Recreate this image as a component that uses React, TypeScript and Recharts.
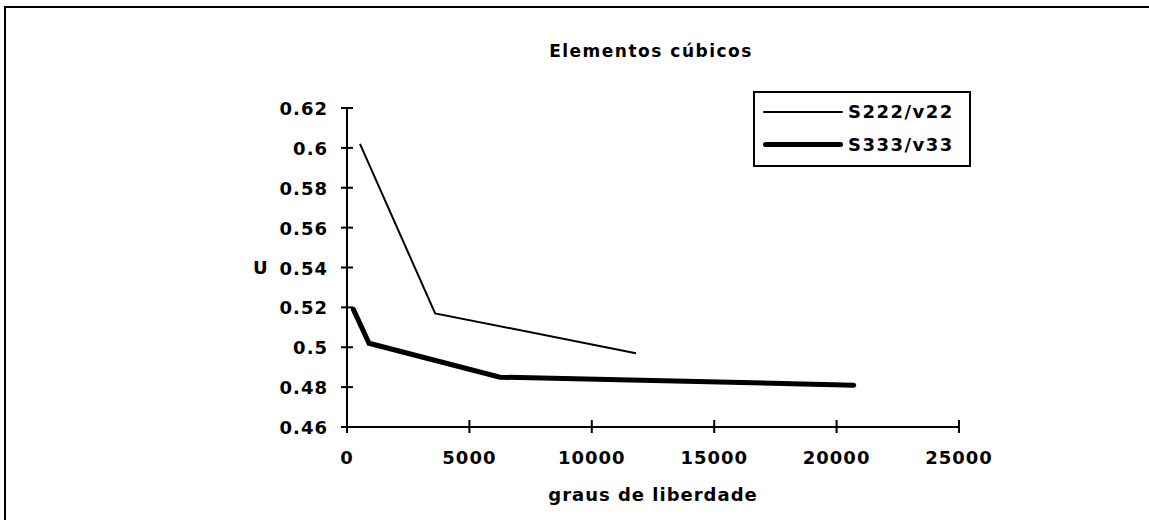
import React from 'react';
import { LineChart, Line, XAxis, YAxis, Legend, Label } from 'recharts';

// values
const s222Graus = [530, 3600, 11800];
const s222U = [0.602, 0.517, 0.497];
const s333Graus = [260, 900, 6250, 20700];
const s333U = [0.519, 0.502, 0.485, 0.481];

const xTicks = [0, 5000, 10000, 15000, 20000, 25000];
const yTicks = [0.46, 0.48, 0.5, 0.52, 0.54, 0.56, 0.58, 0.6, 0.62];

const seriesNames = ['S222/v22', 'S333/v33'];

const toPoints = (xs: number[], ys: number[]) => xs.map((g, i) => ({ graus: g, u: ys[i] }));
const s222Data = toPoints(s222Graus, s222U);
const s333Data = toPoints(s333Graus, s333U);

const FONT = '"DejaVu Sans", sans-serif';
const textStyle = { fontFamily: FONT, fontWeight: 700, fontSize: 18, letterSpacing: 1, fill: '#000' };

const YTick = (props: any) => {
  const { x, y, payload } = props;
  return (
    <g>
      <line x1={x - 6} x2={x + 6} y1={y} y2={y} stroke="#000" strokeWidth={2} />
      <text x={x - 19} y={y + 7} textAnchor="end" style={textStyle}>
        {String(Number(payload.value.toFixed(2)))}
      </text>
    </g>
  );
};

const XTick = (props: any) => {
  const { x, y, payload } = props;
  return (
    <g>
      <line x1={x} x2={x} y1={y - 7} y2={y + 6} stroke="#000" strokeWidth={2} />
      <text x={x} y={y + 37} textAnchor="middle" style={textStyle}>
        {payload.value}
      </text>
    </g>
  );
};

const LegendBox = () => (
  <div
    style={{
      position: 'absolute',
      left: 753,
      top: 91,
      width: 214,
      height: 72,
      border: '2px solid #000',
      background: '#fff',
      fontFamily: FONT,
      fontWeight: 700,
      fontSize: 18,
      letterSpacing: 1.5,
    }}
  >
    {seriesNames.map((name, i) => (
      <div key={name} style={{ position: 'absolute', left: 8, top: i === 0 ? 8 : 41, display: 'flex', alignItems: 'center' }}>
        <div style={{ width: 80, height: i === 0 ? 2 : 5, background: '#000', borderRadius: 3 }} />
        <span style={{ marginLeft: 5 }}>{name}</span>
      </div>
    ))}
  </div>
);

export default function App() {
  return (
    <div style={{ position: 'absolute', left: 0, top: 0, width: 1149, height: 520, overflow: 'hidden', background: '#fff' }}>
      <div
        style={{
          position: 'absolute',
          left: 4,
          top: 6,
          width: 1300,
          height: 700,
          borderLeft: '2px solid #000',
          borderTop: '2px solid #000',
        }}
      />
      <div
        style={{
          position: 'absolute',
          left: 501,
          top: 41,
          width: 300,
          textAlign: 'center',
          fontFamily: FONT,
          fontWeight: 700,
          fontSize: 17,
          letterSpacing: 1.5,
        }}
      >
        Elementos cúbicos
      </div>
      <div style={{ position: 'absolute', left: 0, top: 0 }}>
        <LineChart width={1149} height={520} margin={{ top: 108, right: 190, bottom: 13, left: 247 }}>
          <XAxis
            type="number"
            dataKey="graus"
            domain={[0, 25000]}
            ticks={xTicks}
            height={80}
            tickSize={0}
            tickMargin={0}
            tickLine={false}
            tick={<XTick />}
            axisLine={{ stroke: '#000', strokeWidth: 2 }}
            allowDuplicatedCategory={false}
          >
            <Label value="graus de liberdade" position="insideBottom" offset={6} style={textStyle} />
          </XAxis>
          <YAxis
            type="number"
            dataKey="u"
            domain={[0.46, 0.62]}
            ticks={yTicks}
            width={100}
            tickSize={0}
            tickMargin={0}
            tickLine={false}
            tick={<YTick />}
            axisLine={{ stroke: '#000', strokeWidth: 2 }}
          >
            <Label value="U" position="insideLeft" offset={6} style={textStyle} />
          </YAxis>
          <Legend content={() => <LegendBox />} wrapperStyle={{ position: 'absolute', left: 0, top: 0, width: 0, height: 0 }} />
          <Line data={s222Data} dataKey="u" name={seriesNames[0]} type="linear" stroke="#000" strokeWidth={2} dot={false} isAnimationActive={false} />
          <Line data={s333Data} dataKey="u" name={seriesNames[1]} type="linear" stroke="#000" strokeWidth={5} dot={false} strokeLinecap="round" isAnimationActive={false} />
        </LineChart>
      </div>
    </div>
  );
}
